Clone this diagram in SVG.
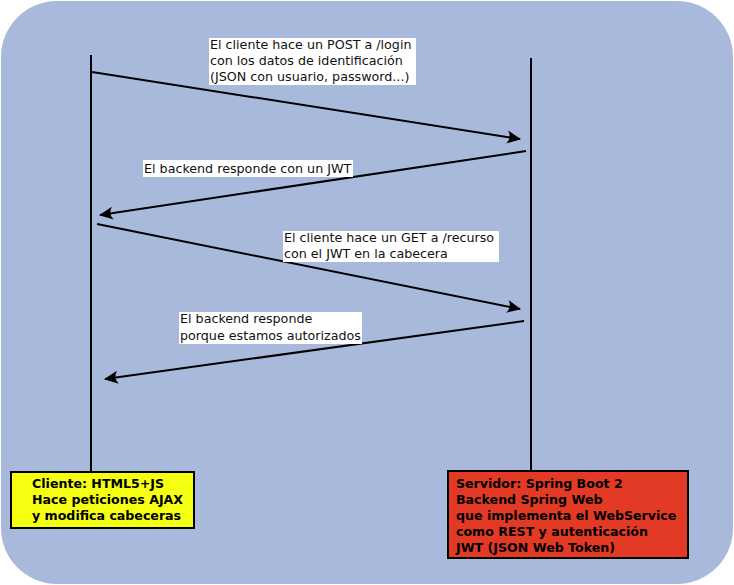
<svg xmlns="http://www.w3.org/2000/svg" width="734" height="585" viewBox="0 0 734 585">
<style>
.life{stroke:#000;stroke-width:2;fill:none}
.msg{stroke:#000;stroke-width:2;fill:none;marker-end:url(#ah)}
.lbl{font-family:"DejaVu Sans",sans-serif;font-size:12.7px;fill:#111}
.lblbg{fill:#fff}
.node{stroke:#000;stroke-width:2}
.ntxt{font-family:"DejaVu Sans",sans-serif;font-size:12.6px;font-weight:bold;fill:#000}
</style>
<defs>
<marker id="ah" viewBox="-14 -7 16 14" refX="0" refY="0" markerWidth="16" markerHeight="14" markerUnits="userSpaceOnUse" orient="auto">
<path d="M1,0 L-13,-6.5 Q-8,0 -13,6.5 Z" fill="#000"/>
</marker>
</defs>
<rect x="1" y="1" width="732" height="583" rx="56" ry="56" fill="#a8b9dc"/>
<g id="lifelines">
<line class="life" x1="91" y1="55" x2="91" y2="472"/>
<line class="life" x1="531" y1="58" x2="531" y2="471"/>
</g>
<g id="connectors">
<line class="msg" x1="92" y1="72" x2="520" y2="139"/>
<line class="msg" x1="526" y1="151" x2="100" y2="215"/>
<line class="msg" x1="97" y1="224" x2="520" y2="309"/>
<line class="msg" x1="524" y1="321" x2="105" y2="379"/>
</g>
<g id="label1">
<rect class="lblbg" x="209" y="38" width="207" height="47"/>
<text class="lbl" x="210" y="49">El cliente hace un POST a /login</text>
<text class="lbl" x="210" y="65">con los datos de identificación</text>
<text class="lbl" x="210" y="81">(JSON con usuario, password...)</text>
</g>
<g id="label2">
<rect class="lblbg" x="143" y="160" width="210" height="17"/>
<text class="lbl" x="144" y="173">El backend responde con un JWT</text>
</g>
<g id="label3">
<rect class="lblbg" x="283" y="231" width="216" height="31"/>
<text class="lbl" x="284" y="242">El cliente hace un GET a /recurso</text>
<text class="lbl" x="284" y="258">con el JWT en la cabecera</text>
</g>
<g id="label4">
<rect class="lblbg" x="179" y="312" width="183" height="32"/>
<text class="lbl" x="180" y="323">El backend responde</text>
<text class="lbl" x="180" y="340">porque estamos autorizados</text>
</g>
<g id="cliente">
<rect class="node" x="11" y="472" width="183" height="56" fill="#f4ff12"/>
<text class="ntxt" x="32" y="488">Cliente: HTML5+JS</text>
<text class="ntxt" x="32" y="504">Hace peticiones AJAX</text>
<text class="ntxt" x="32" y="520">y modifica cabeceras</text>
</g>
<g id="servidor">
<rect class="node" x="448" y="471" width="240" height="87" fill="#e33a25"/>
<text class="ntxt" x="456" y="488">Servidor: Spring Boot 2</text>
<text class="ntxt" x="456" y="504">Backend Spring Web</text>
<text class="ntxt" x="456" y="520">que implementa el WebService</text>
<text class="ntxt" x="456" y="536">como REST y autenticación</text>
<text class="ntxt" x="456" y="552">JWT (JSON Web Token)</text>
</g>
</svg>
